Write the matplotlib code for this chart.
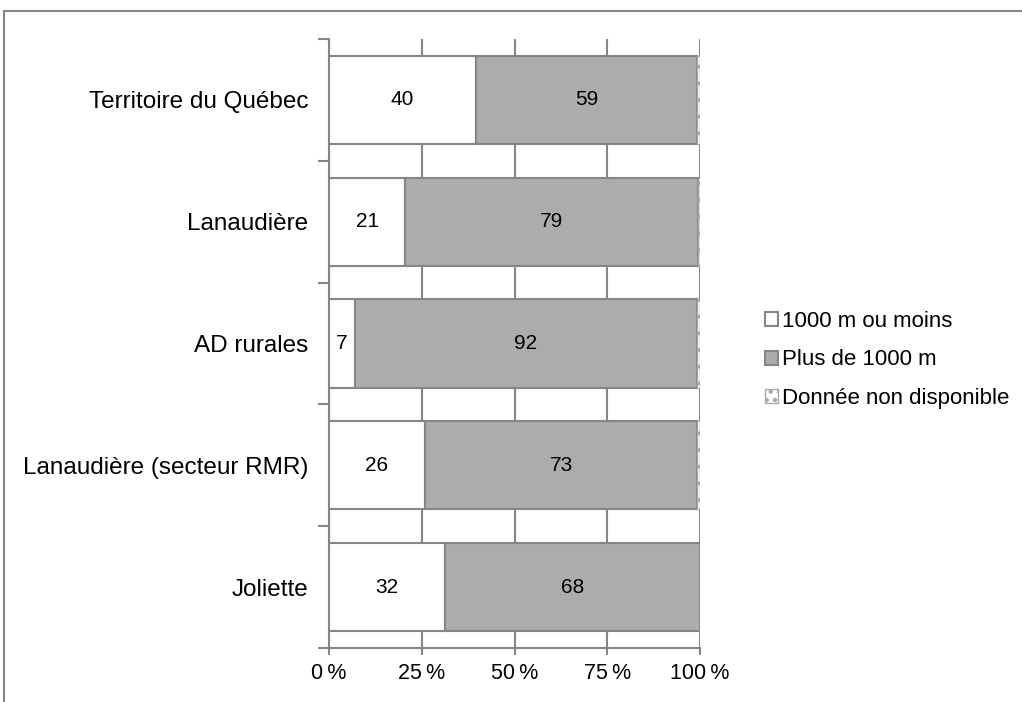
import matplotlib
matplotlib.use('Agg')
from matplotlib import pyplot as plt
from matplotlib.lines import Line2D
from matplotlib.ticker import FixedLocator, FuncFormatter
import numpy as np

plt.rcParams['font.family'] = ['Liberation Sans', 'DejaVu Sans']

categories = ['Territoire du Québec', 'Lanaudière', 'AD rurales',
              'Lanaudière (secteur RMR)', 'Joliette']
moins_1000 = [39.7, 20.6, 7.0, 25.9, 31.4]
plus_1000 = [59.6, 78.8, 92.2, 73.3, 68.6]
non_dispo = [0.7, 0.6, 0.8, 0.8, 0.0]
labels_moins = ['40', '21', '7', '26', '32']
labels_plus = ['59', '79', '92', '73', '68']
series_names = ['1000 m ou moins', 'Plus de 1000 m', 'Donnée non disponible']
x_ticks = [0, 25, 50, 75, 100]

grey_line = '#868686'

fig = plt.figure(figsize=(10.22, 7.02), dpi=100)
ax = fig.add_axes([329 / 1022, 1 - 648 / 702, 371 / 1022, 609 / 702])

y = np.arange(len(categories))
h = 0.725
left2 = np.array(moins_1000)
left3 = left2 + np.array(plus_1000)

b1 = ax.barh(y, moins_1000, height=h, color='white', edgecolor=grey_line,
             linewidth=1.5, zorder=3)
b2 = ax.barh(y, plus_1000, left=left2, height=h, color='#acacac',
             edgecolor=grey_line, linewidth=1.5, zorder=3)
plt.rcParams['hatch.color'] = '#a8a8a8'
plt.rcParams['hatch.linewidth'] = 2.0
b3 = ax.barh(y, non_dispo, left=left3, height=h, color='white',
             edgecolor='#a8a8a8', hatch='..', linewidth=1.0, zorder=3)

for i in range(len(categories)):
    ax.text(moins_1000[i] / 2, y[i], labels_moins[i], ha='center', va='center',
            fontsize=15, zorder=4)
    ax.text(left2[i] + plus_1000[i] / 2, y[i], labels_plus[i], ha='center',
            va='center', fontsize=15, zorder=4)

ax.set_xlim(0, 100)
ax.set_ylim(len(categories) - 0.5, -0.5)

# axes styling
for s in ['top', 'right']:
    ax.spines[s].set_visible(False)
for s in ['left', 'bottom']:
    ax.spines[s].set_color(grey_line)
    ax.spines[s].set_linewidth(1.5)

ax.xaxis.set_major_locator(FixedLocator(x_ticks))
ax.xaxis.set_major_formatter(FuncFormatter(lambda v, p: '%d\u2009%%' % v))
ax.tick_params(axis='x', length=5, width=1.5, color=grey_line,
               labelsize=15.5, pad=6)
ax.grid(axis='x', color=grey_line, linewidth=1.5, zorder=0)

ax.set_yticks(y)
ax.set_yticklabels(categories, fontsize=17.5)
ax.yaxis.set_minor_locator(FixedLocator(np.arange(len(categories) + 1) - 0.5))
ax.tick_params(axis='y', which='major', length=0, pad=15)
ax.tick_params(axis='y', which='minor', length=8, width=1.5, color=grey_line)

leg = fig.legend([b1, b2, b3], series_names, loc='center left',
                 bbox_to_anchor=(745 / 1022, 1 - 360 / 702), frameon=False,
                 fontsize=16, handlelength=0.6, handleheight=0.6,
                 handletextpad=0.15, labelspacing=0.8)

# chart area border (cropped)
fig.add_artist(Line2D([4 / 1022, 1], [1 - 11 / 702] * 2, color=grey_line, lw=1.5))
fig.add_artist(Line2D([4 / 1022] * 2, [0, 1 - 11 / 702], color=grey_line, lw=1.5))

fig.savefig('out.png', dpi=100)
